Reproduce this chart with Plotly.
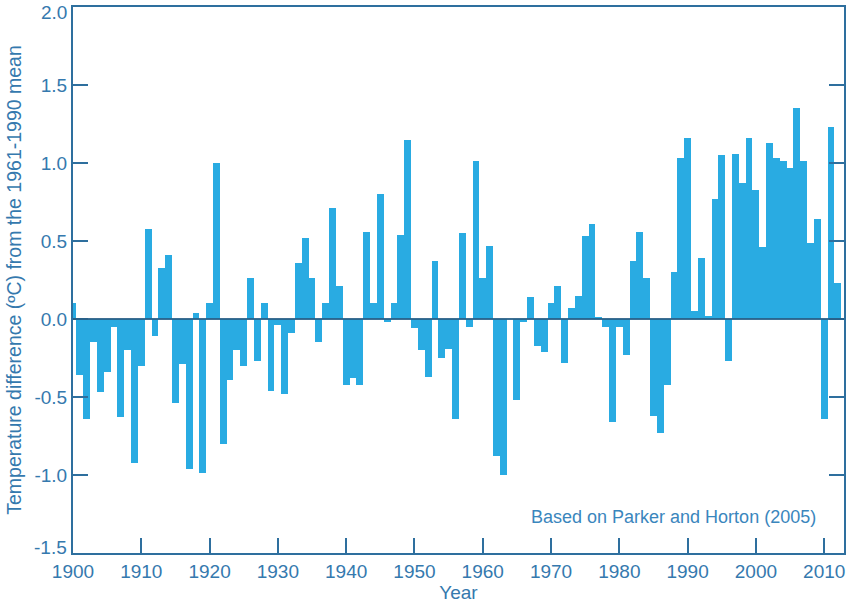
import plotly.graph_objects as go

years = list(range(1900, 2013))
anomaly = [
    0.10, -0.36, -0.64, -0.15, -0.47, -0.34, -0.05, -0.63, -0.20, -0.92,   # 1900-1909
    -0.30, 0.58, -0.11, 0.33, 0.41, -0.54, -0.29, -0.96, 0.04, -0.99,      # 1910-1919
    0.10, 1.00, -0.80, -0.39, -0.20, -0.30, 0.26, -0.27, 0.10, -0.46,      # 1920-1929
    -0.04, -0.48, -0.09, 0.36, 0.52, 0.26, -0.15, 0.10, 0.71, 0.21,        # 1930-1939
    -0.42, -0.38, -0.42, 0.56, 0.10, 0.80, -0.02, 0.10, 0.54, 1.15,        # 1940-1949
    -0.06, -0.20, -0.37, 0.37, -0.25, -0.19, -0.64, 0.55, -0.05, 1.01,     # 1950-1959
    0.26, 0.47, -0.88, -1.00, 0.00, -0.52, -0.02, 0.14, -0.17, -0.21,      # 1960-1969
    0.10, 0.21, -0.28, 0.07, 0.15, 0.53, 0.61, 0.01, -0.05, -0.66,         # 1970-1979
    -0.05, -0.23, 0.37, 0.56, 0.26, -0.62, -0.73, -0.42, 0.30, 1.03,       # 1980-1989
    1.16, 0.05, 0.39, 0.02, 0.77, 1.05, -0.27, 1.06, 0.87, 1.16,           # 1990-1999
    0.83, 0.46, 1.13, 1.03, 1.01, 0.97, 1.35, 1.01, 0.49, 0.64,            # 2000-2009
    -0.64, 1.23, 0.23,                                                     # 2010-2012
]
x_ticks = list(range(1900, 2011, 10))
y_ticks = [-1.5, -1.0, -0.5, 0.0, 0.5, 1.0, 1.5, 2.0]
y_labels = ["-1.5", "-1.0", "-0.5", "0.0", "0.5", "1.0", "1.5", "2.0"]

BAR = "#29abe2"
LINE = "#2e6f9e"
TEXT = "#3579ae"
FONT = "Liberation Sans"
FS = 19

# the end labels of the y axis sit inside the frame, so they are drawn as annotations
edge = {y_ticks[0]: 6, y_ticks[-1]: -5}
shown = [lab if v not in edge else "" for v, lab in zip(y_ticks, y_labels)]

fig = go.Figure(go.Bar(x=years, y=anomaly, width=1.0,
                       marker=dict(color=BAR, line=dict(width=0))))

fig.add_shape(type="line", xref="paper", x0=0, x1=1, yref="y", y0=0, y1=0,
              line=dict(color="rgba(40,95,135,0.9)", width=2), layer="above")

for v, lab in zip(y_ticks, y_labels):
    if v in edge:
        fig.add_annotation(text=lab, xref="paper", yref="y", x=0, y=v, xanchor="right",
                           yanchor="middle", xshift=-4, yshift=edge[v], showarrow=False,
                           font=dict(family=FONT, size=FS, color=TEXT))

fig.add_annotation(text="Based on Parker and Horton (2005)", xref="paper", yref="paper",
                   x=0.966, y=0.0665, xanchor="right", yanchor="middle", showarrow=False,
                   font=dict(family=FONT, size=18, color="#3a86bd"))

fig.update_layout(
    width=847, height=605,
    margin=dict(l=73.3, r=2.7, t=7.3, b=51.7),
    plot_bgcolor="white", paper_bgcolor="white",
    showlegend=False, bargap=0,
    font=dict(family=FONT, size=FS, color=TEXT),
)
fig.update_xaxes(range=[1900, 2012.9], tickvals=x_ticks, ticks="inside", ticklen=15,
                 tickwidth=1.5, tickcolor=LINE, showline=True, linecolor=LINE, linewidth=2,
                 mirror=True, showgrid=False, zeroline=False, automargin=False,
                 tickfont=dict(family=FONT, size=FS, color=TEXT),
                 title=dict(text="Year", font=dict(family=FONT, size=FS, color=TEXT), standoff=0))
fig.update_yaxes(range=[-1.5, 2.0], tickvals=y_ticks, ticktext=shown, ticks="inside",
                 ticklen=15, tickwidth=1.5, tickcolor=LINE, showline=True, linecolor=LINE,
                 linewidth=2, mirror="ticks", showgrid=False, zeroline=False, automargin=False,
                 tickfont=dict(family=FONT, size=FS, color=TEXT),
                 title=dict(text="Temperature difference (ºC) from the 1961-1990 mean",
                            font=dict(family=FONT, size=19.5, color=TEXT), standoff=8))

fig.write_html("out.html", config={"displayModeBar": False},
               post_script="document.body.style.margin='0';")
